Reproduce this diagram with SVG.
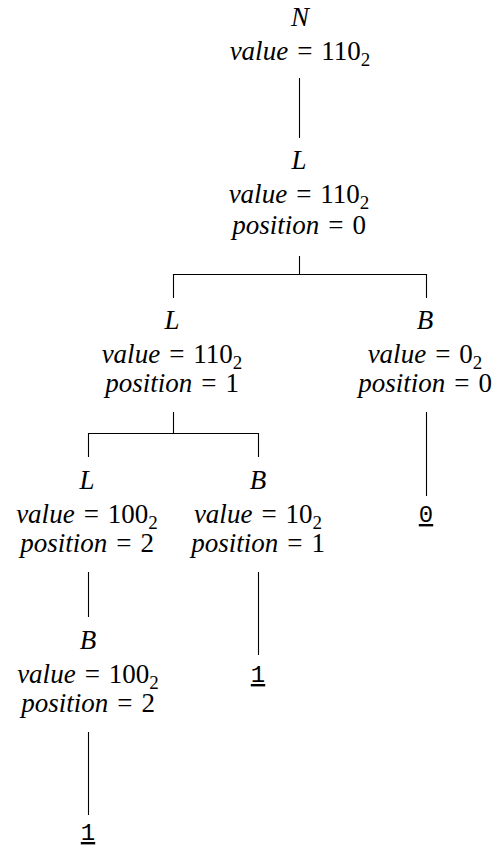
<svg xmlns="http://www.w3.org/2000/svg" width="499" height="849" viewBox="0 0 499 849">
<style>
text{font-family:"Liberation Serif","Times New Roman",serif;font-size:27px;fill:#000;text-anchor:middle}
.i{font-style:italic}
.s{font-size:19px}
.tt{font-family:"Liberation Mono","Courier New",monospace;font-size:24px;text-decoration:underline}
#connectors line,#connectors path{stroke:#000;stroke-width:1.1;fill:none}
</style>
<rect width="499" height="849" fill="#fff"/>
<g id="connectors">
<line x1="299.5" y1="78" x2="299.5" y2="138"/>
<path d="M299.5 256V274.5M173.5 298V274.5H426.5V298"/>
<path d="M173.5 412V433.5M88.5 457V433.5H258.5V457"/>
<line x1="426.5" y1="412" x2="426.5" y2="496"/>
<line x1="88.5" y1="572" x2="88.5" y2="617"/>
<line x1="258.5" y1="572" x2="258.5" y2="655"/>
<line x1="88.5" y1="732" x2="88.5" y2="815"/>
</g>
<g id="nodeN">
<text x="300" y="26" class="i">N</text>
<text x="300" y="60"><tspan class="i">value</tspan><tspan dx="9">=</tspan><tspan dx="9">110</tspan><tspan class="s" dy="6">2</tspan></text>
</g>
<g id="nodeL0">
<text x="299" y="169" class="i">L</text>
<text x="299" y="203"><tspan class="i">value</tspan><tspan dx="9">=</tspan><tspan dx="9">110</tspan><tspan class="s" dy="6">2</tspan></text>
<text x="299" y="234"><tspan class="i">position</tspan><tspan dx="9">=</tspan><tspan dx="9">0</tspan></text>
</g>
<g id="nodeL1">
<text x="172" y="329" class="i">L</text>
<text x="172" y="363"><tspan class="i">value</tspan><tspan dx="9">=</tspan><tspan dx="9">110</tspan><tspan class="s" dy="6">2</tspan></text>
<text x="172" y="392"><tspan class="i">position</tspan><tspan dx="9">=</tspan><tspan dx="9">1</tspan></text>
</g>
<g id="nodeB0">
<text x="425" y="329" class="i">B</text>
<text x="425" y="363"><tspan class="i">value</tspan><tspan dx="9">=</tspan><tspan dx="9">0</tspan><tspan class="s" dy="6">2</tspan></text>
<text x="425" y="392"><tspan class="i">position</tspan><tspan dx="9">=</tspan><tspan dx="9">0</tspan></text>
</g>
<g id="leaf0">
<text x="426" y="522" class="tt">0</text>
</g>
<g id="nodeL2">
<text x="87" y="489" class="i">L</text>
<text x="87" y="523"><tspan class="i">value</tspan><tspan dx="9">=</tspan><tspan dx="9">100</tspan><tspan class="s" dy="6">2</tspan></text>
<text x="87" y="552"><tspan class="i">position</tspan><tspan dx="9">=</tspan><tspan dx="9">2</tspan></text>
</g>
<g id="nodeB1">
<text x="258" y="489" class="i">B</text>
<text x="258" y="523"><tspan class="i">value</tspan><tspan dx="9">=</tspan><tspan dx="9">10</tspan><tspan class="s" dy="6">2</tspan></text>
<text x="258" y="552"><tspan class="i">position</tspan><tspan dx="9">=</tspan><tspan dx="9">1</tspan></text>
</g>
<g id="leaf1a">
<text x="258" y="682" class="tt">1</text>
</g>
<g id="nodeB2">
<text x="88" y="649" class="i">B</text>
<text x="88" y="683"><tspan class="i">value</tspan><tspan dx="9">=</tspan><tspan dx="9">100</tspan><tspan class="s" dy="6">2</tspan></text>
<text x="88" y="712"><tspan class="i">position</tspan><tspan dx="9">=</tspan><tspan dx="9">2</tspan></text>
</g>
<g id="leaf1b">
<text x="88" y="840" class="tt">1</text>
</g>
</svg>
